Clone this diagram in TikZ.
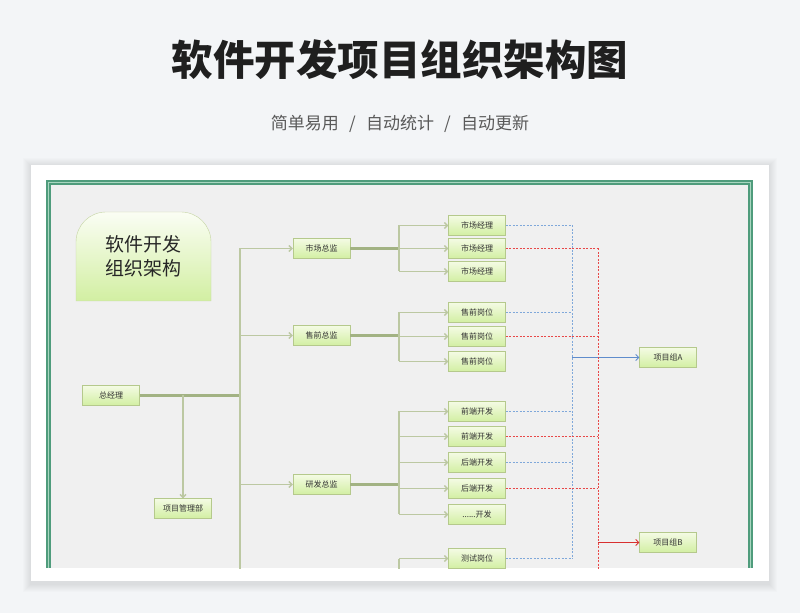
\documentclass[tikz,border=0pt]{standalone}
\usepackage{fontspec}
\newfontfamily\cjk{Noto Sans CJK SC}
\usetikzlibrary{arrows.meta,shadows}
\definecolor{bgpage}{HTML}{F3F5F7}
\definecolor{framegreen}{HTML}{4F9C7C}
\definecolor{framelight}{HTML}{A9D6C0}
\definecolor{panel}{HTML}{F0F0F0}
\definecolor{boxtop}{HTML}{F4FBE4}
\definecolor{boxbot}{HTML}{D2EFA2}
\definecolor{boxline}{HTML}{B5C98C}
\definecolor{treeline}{HTML}{BCC8A2}
\definecolor{treedark}{HTML}{A2B283}
\definecolor{linkblue}{HTML}{7FA8DA}
\definecolor{linkred}{HTML}{E84848}
\definecolor{arrblue}{HTML}{5F8CCC}
\definecolor{arrred}{HTML}{D83030}

\begin{document}
\begin{tikzpicture}[x=1pt,y=1pt,
    box/.style={draw=boxline, top color=boxtop, bottom color=boxbot,
      minimum width=57pt, minimum height=20pt, inner sep=0pt,
      font=\cjk\fontsize{8}{10}\selectfont, text=black!80,
      drop shadow={shadow xshift=0.7pt, shadow yshift=-0.9pt, opacity=0.25, fill=black!40}},
    branch/.style={treeline, line width=1.4pt, -{Straight Barb[length=3pt,width=6pt]}},
    spine/.style={treeline, line width=1.4pt},
    stem/.style={treedark, line width=2.4pt},
    bluelink/.style={linkblue, line width=1pt, dash pattern=on 2pt off 1.5pt},
    redlink/.style={linkred, line width=1pt, dash pattern=on 2pt off 1.5pt}]
    \useasboundingbox (0,0) rectangle (800,613);
    \fill[bgpage] (0,0) rectangle (800,613);

    \node[font=\cjk\bfseries\fontsize{41.5}{46}\selectfont, text=black!88] (title) at (400,553) {软件开发项目组织架构图};
    \node[font=\cjk\fontsize{17}{20}\selectfont, text=black!65] (sub) at (400,489)
      {简单易用\hspace{0.6em}/\hspace{0.6em}自动统计\hspace{0.6em}/\hspace{0.6em}自动更新};

    \foreach \s in {1,...,8}
      \fill[black, opacity=0.012] (31-\s,29-\s) rectangle (769+\s,447+\s);
    \fill[white] (31,32) rectangle (769,448);
    \fill[panel] (46,45) rectangle (753,433);
    \draw[framegreen, line width=5pt] (48.5,45) -- (48.5,430.5) -- (750.5,430.5) -- (750.5,45);
    \draw[framelight, line width=1pt] (48.5,45) -- (48.5,430.5) -- (750.5,430.5) -- (750.5,45);

    \begin{scope}
    \clip (51,45) rectangle (748,428);

    \draw[draw=boxline!80, top color=white!60!boxtop, bottom color=boxbot] (76,312) -- (76,371)
      arc[start angle=180, end angle=90, radius=30] -- (181,401)
      arc[start angle=90, end angle=0, radius=30] -- (211,312) -- cycle;
    \node[align=center, font=\cjk\fontsize{19}{24}\selectfont, text=black!85] (org) at (143.5,357) {软件开发\\组织架构};

    \node[box] (boss) at (111,217.5) {总经理};
    \node[box] (pmo) at (183,104.5) {项目管理部};
    \node[box] (mkt) at (321.5,364.5) {市场总监};
    \node[box] (pre) at (321.5,277.5) {售前总监};
    \node[box] (rd) at (321.5,128.5) {研发总监};

    \node[box] (m1) at (477,387.5) {市场经理};
    \node[box] (m2) at (477,364.5) {市场经理};
    \node[box] (m3) at (477,341.5) {市场经理};
    \node[box] (p1) at (477,300.5) {售前岗位};
    \node[box] (p2) at (477,276.5) {售前岗位};
    \node[box] (p3) at (477,251.5) {售前岗位};
    \node[box] (d1) at (477,201.5) {前端开发};
    \node[box] (d2) at (477,176.5) {前端开发};
    \node[box] (d3) at (477,150.5) {后端开发};
    \node[box] (d4) at (477,124.5) {后端开发};
    \node[box] (d5) at (477,98.5) {......开发};
    \node[box] (t1) at (477,54.5) {测试岗位};

    \node[box] (ga) at (668,255.5) {项目组A};
    \node[box] (gb) at (668,70.5) {项目组B};

    \coordinate (hub) at (240,217.5);
    \coordinate (hubend) at (240,30);
    \coordinate (sx) at (399,0);
    \coordinate (bx) at (572,0);
    \coordinate (rx) at (598,0);

    \draw[stem] (boss) -- (hub);
    \draw[spine] (hub |- mkt) -- (hubend);
    \draw[spine] (pmo |- boss) -- (pmo);
    \draw[branch] (pmo |- boss) -- (pmo);
    \foreach \n in {mkt,pre,rd}
      \draw[branch] (hub |- \n) -- (\n);

    \foreach \n in {mkt,pre,rd}
      \draw[stem] (\n) -- (sx |- \n);
    \draw[spine] (sx |- m1) -- (sx |- m3);
    \draw[spine] (sx |- p1) -- (sx |- p3);
    \draw[spine] (sx |- d1) -- (sx |- d5);
    \draw[spine] (sx |- t1) -- (sx |- hubend);
    \foreach \n in {m1,m2,m3,p1,p2,p3,d1,d2,d3,d4,d5,t1}
      \draw[branch] (sx |- \n) -- (\n);

    \foreach \n in {m1,p1,d1,d3,t1}
      \draw[bluelink] (\n.east) -- (bx |- \n);
    \draw[bluelink] (bx |- m1) -- (bx |- t1);
    \draw[arrblue, line width=0.9pt, -{Straight Barb[length=3pt,width=6pt]}] (bx |- ga) -- (ga);

    \foreach \n in {m2,p2,d2,d4}
      \draw[redlink] (\n.east) -- (rx |- \n);
    \draw[redlink] (rx |- m2) -- (rx |- hubend);
    \draw[arrred, line width=0.9pt, -{Straight Barb[length=3pt,width=6pt]}] (rx |- gb) -- (gb);
    \end{scope}
\end{tikzpicture}
\end{document}
